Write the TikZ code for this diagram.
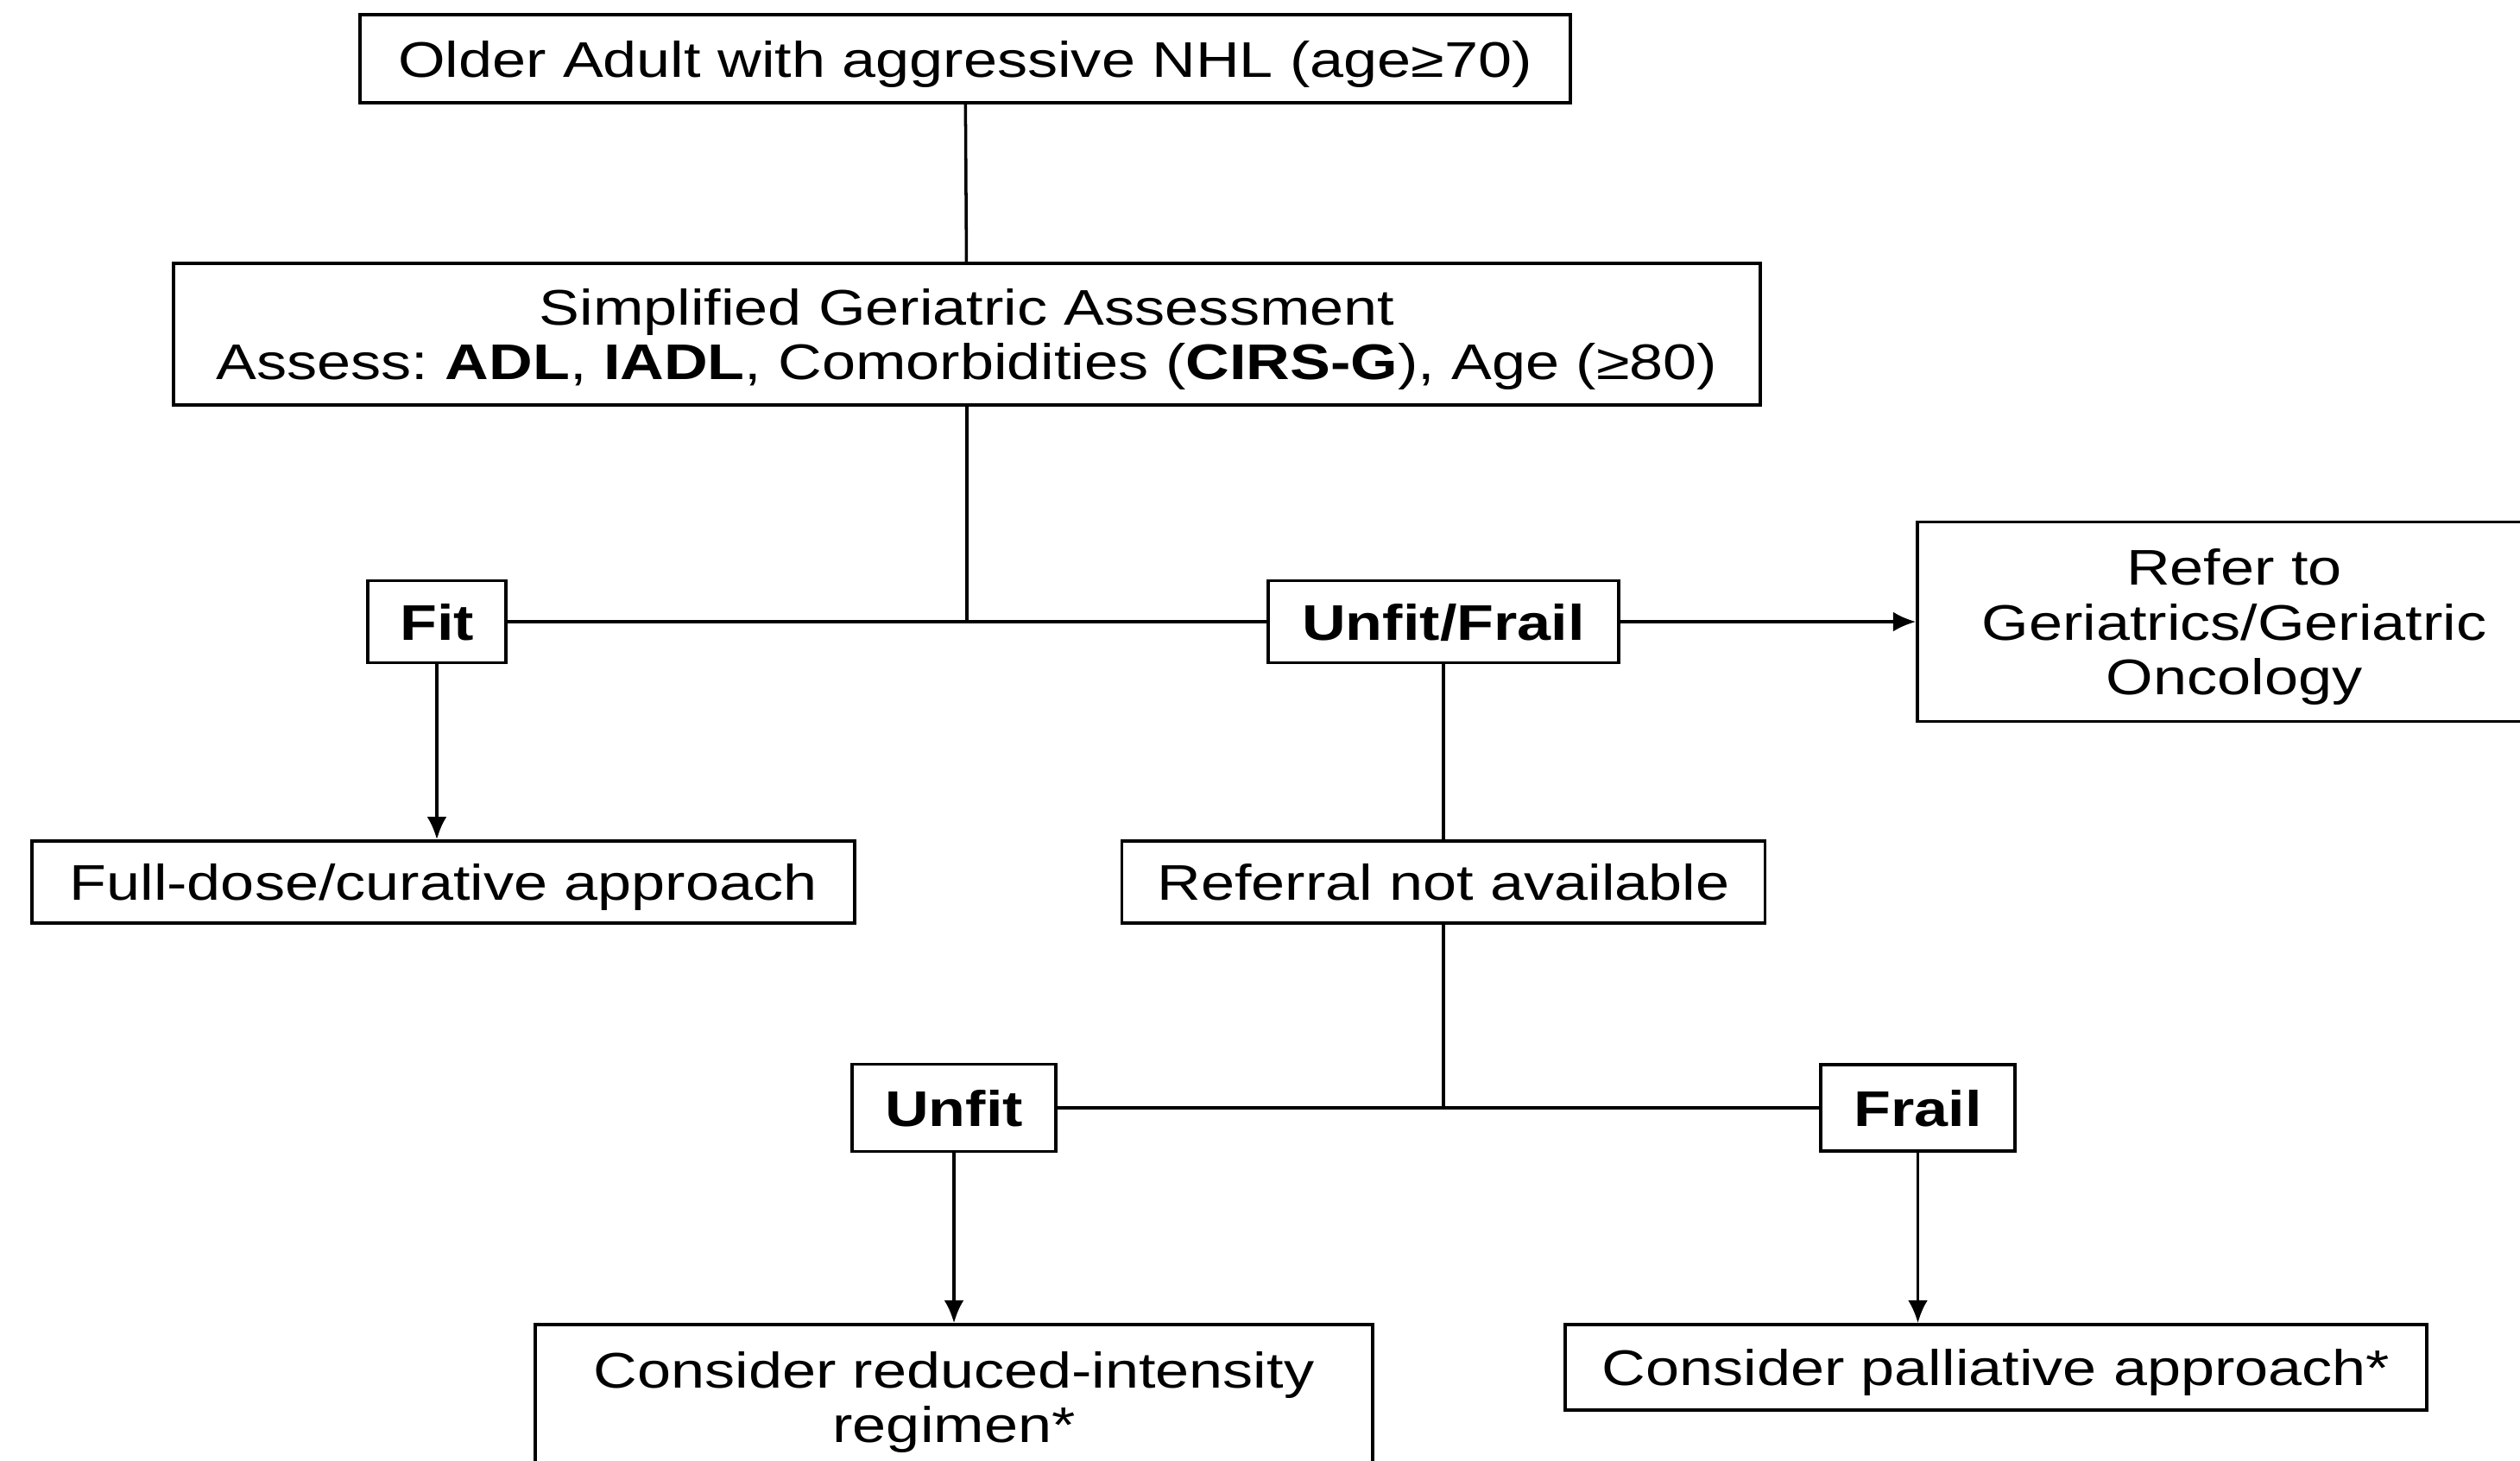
\documentclass[tikz,border=0pt]{standalone}
\usepackage{fontspec}
\setmainfont{Liberation Sans}[FakeStretch=1.21]
\frenchspacing
\usetikzlibrary{positioning, arrows.meta}

\tikzset{
	box/.style={draw, rectangle, line width=1pt, text centered, align=center, inner sep=0pt, text depth=0pt, font=\fontsize{16.5}{18}\selectfont},
	link/.style={line width=1pt},
	arrowlink/.style={link, -{Latex[length=7.5pt, width=6.5pt]}},
}

\begin{document}
\begin{tikzpicture}
		\clip (0,0) rectangle (29.19,-16.91);
		
		\node (Older Adult) at (11.18,-0.68) [box, minimum width=14.02cm, minimum height=1.02cm]{Older Adult with aggressive NHL (age≥70)};
		
		\node (Geriatric Assessment) at (11.20,-3.87) [box, minimum width=18.38cm, minimum height=1.64cm]{Simplified Geriatric Assessment\\Assess: \textbf{ADL}, \textbf{IADL}, Comorbidities (\textbf{CIRS-G}), Age (≥80)};
		
		\node (Fit) at (5.06,-7.20) [box, minimum width=1.60cm, minimum height=0.95cm]{\textbf{Fit}};
		
		\node (Unfit Frail) at (16.72,-7.20) [box, minimum width=4.06cm, minimum height=0.95cm]{\textbf{Unfit/Frail}};
		
		\node (Refer) at (25.88,-7.20) [box, minimum width=7.34cm, minimum height=2.31cm]{Refer to\\Geriatrics/Geriatric\\Oncology};
		
		\node (Full dose) at (5.135,-10.215) [box, minimum width=9.53cm, minimum height=0.95cm]{Full-dose/curative approach};
		
		\node (Referral) at (16.72,-10.215) [box, minimum width=7.45cm, minimum height=0.95cm]{Referral not available};
		
		\node (Unfit) at (11.05,-12.83) [box, minimum width=2.36cm, minimum height=1.01cm]{\textbf{Unfit}};
		
		\node (Frail) at (22.215,-12.83) [box, minimum width=2.25cm, minimum height=1.00cm]{\textbf{Frail}};
		
		\node (Reduced) at (11.05,-16.18) [box, minimum width=9.70cm, minimum height=1.68cm]{Consider reduced-intensity\\regimen*};
		
		\node (Palliative) at (23.12,-15.835) [box, minimum width=9.98cm, minimum height=0.99cm]{Consider palliative approach*};
		
		%Links
		\draw[link] (Older Adult) -- (Geriatric Assessment);
		\draw[link] (Geriatric Assessment.south) -- (Geriatric Assessment.south |- Fit.east);
		\draw[link] (Fit) -- (Unfit Frail);
		\draw[arrowlink] (Unfit Frail) -- (Refer);
		\draw[arrowlink] (Fit) -- (Fit |- Full dose.north);
		\draw[link] (Unfit Frail) -- (Referral);
		\draw[link] (Referral.south) -- (Referral.south |- Unfit.east);
		\draw[link] (Unfit) -- (Frail);
		\draw[arrowlink] (Unfit) -- (Unfit |- Reduced.north);
		\draw[arrowlink] (Frail) -- (Frail |- Palliative.north);
		
\end{tikzpicture}
\end{document}
